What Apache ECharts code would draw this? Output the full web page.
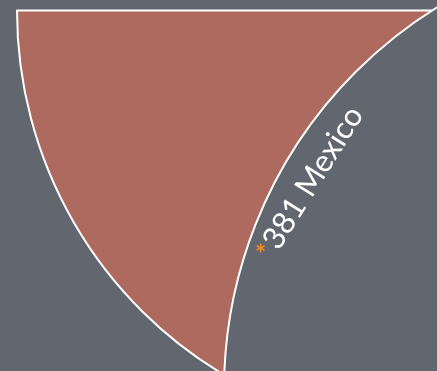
<!DOCTYPE html>
<html>
<head>
<meta charset="utf-8">
<script src="https://cdn.jsdelivr.net/npm/echarts@6/dist/echarts.min.js"></script>
<style>
  html, body { margin: 0; padding: 0; background: #62666e; }
  #chart { width: 437px; height: 371px; }
</style>
</head>
<body>
<div id="chart"></div>
<script>
// ---- data ----
var categories = ['Mexico'];
var values = [381];
var labelMarks = ['*'];

// ---- styles ----
var BG = '#62666e';
var SLICE = '#ae6a5e';
var MARK = '#f28a26';

var chart = echarts.init(document.getElementById('chart'), null, { renderer: 'canvas' });

var sliceData = categories.map(function (c, i) { return { name: c, value: values[i] }; });

chart.setOption({
  backgroundColor: BG,
  animation: false,
  series: [
    {
      type: 'pie',
      z: 1,
      center: [441, 10.5],
      radius: 424,
      startAngle: 240,
      endAngle: 180,
      clockwise: true,
      silent: true,
      label: { show: false },
      labelLine: { show: false },
      itemStyle: { color: SLICE, borderColor: '#ffffff', borderWidth: 2 },
      data: sliceData
    },
    {
      type: 'pie',
      z: 2,
      center: [674, 390],
      radius: 450,
      silent: true,
      label: { show: false },
      labelLine: { show: false },
      itemStyle: { color: BG, borderColor: '#ffffff', borderWidth: 2 },
      data: sliceData
    },
    {
      type: 'pie',
      z: 3,
      center: [674, 390],
      radius: [406, 426],
      startAngle: 165.4,
      endAngle: 135.4,
      clockwise: true,
      silent: true,
      itemStyle: { color: 'rgba(0,0,0,0)', borderWidth: 0 },
      labelLine: { show: false },
      label: {
        show: true,
        position: 'inside',
        rotate: 58,
        formatter: function (p) {
          return '{s|' + labelMarks[p.dataIndex] + '}{t|' + p.value + ' ' + p.name + '}';
        },
        rich: {
          s: { color: MARK, fontSize: 27, fontWeight: 'bold', fontFamily: 'Lato', padding: [0, 1, 0, 0] },
          t: { color: '#ffffff', fontSize: 31, fontFamily: 'Lato' }
        }
      },
      data: sliceData
    }
  ]
});
</script>
</body>
</html>
